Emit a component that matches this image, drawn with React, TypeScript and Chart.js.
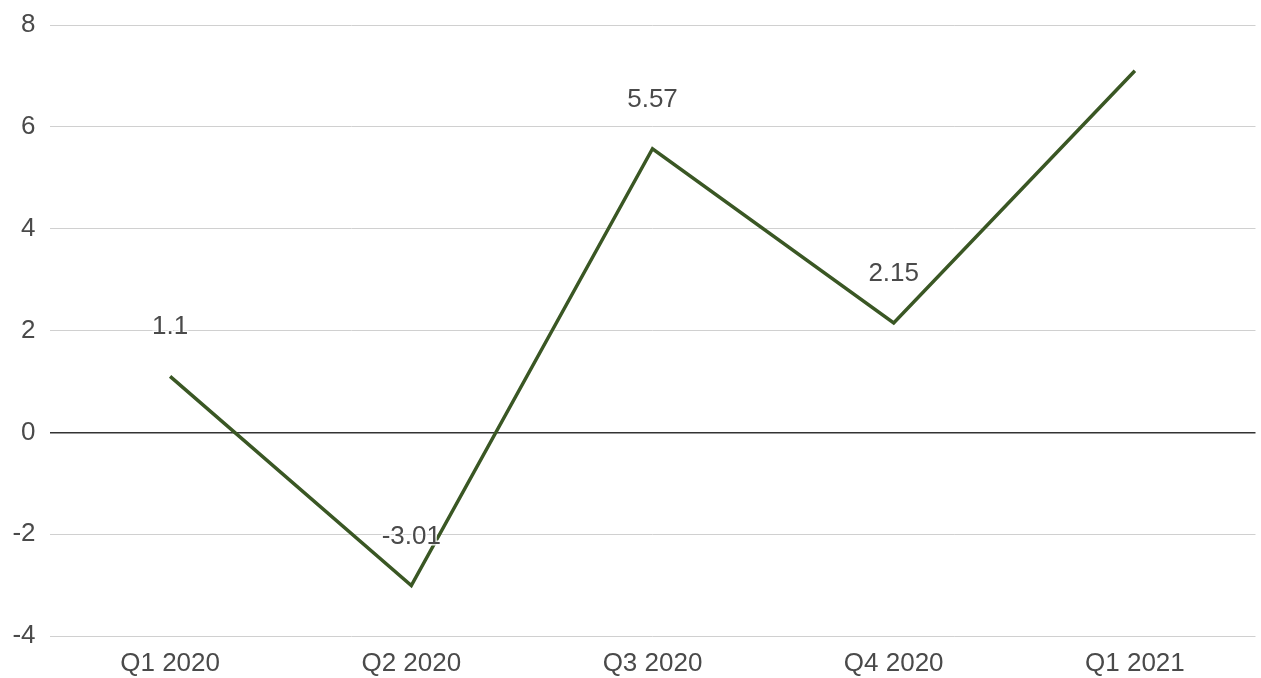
import React, { useEffect, useRef } from "react";
import { Chart, registerables } from "chart.js";

Chart.register(...registerables);

const categories = ["Q1 2020", "Q2 2020", "Q3 2020", "Q4 2020", "Q1 2021"];
const values = [1.1, -3.01, 5.57, 2.15, 7.1];
const showValueLabel = [true, true, true, true, false];
const yTicks = [-4, -2, 0, 2, 4, 6, 8];

const FONT = "'Liberation Sans', Arial, sans-serif";

const valueLabelPlugin = {
  id: "valueLabels",
  afterDatasetsDraw(chart: any) {
    const ctx = chart.ctx;
    const meta = chart.getDatasetMeta(0);
    ctx.save();
    ctx.font = `26px ${FONT}`;
    ctx.textAlign = "center";
    ctx.textBaseline = "middle";
    meta.data.forEach((pt: any, i: number) => {
      if (!showValueLabel[i]) return;
      const txt = String(values[i]);
      const x = pt.x;
      const y = pt.y - 49;
      ctx.lineWidth = 3;
      ctx.strokeStyle = "rgba(255,255,255,0.85)";
      ctx.strokeText(txt, x, y);
      ctx.fillStyle = "#4a4a4a";
      ctx.fillText(txt, x, y);
    });
    ctx.restore();
  },
};

export default function App() {
  const ref = useRef<HTMLCanvasElement | null>(null);
  useEffect(() => {
    if (!ref.current) return;
    const chart = new Chart(ref.current, {
      type: "line",
      data: {
        labels: categories,
        datasets: [
          {
            data: values,
            borderColor: "#3a5724",
            borderWidth: 3.5,
            pointRadius: 0,
            tension: 0,
            fill: false,
          },
        ],
      },
      options: {
        animation: false,
        responsive: false,
        maintainAspectRatio: false,
        layout: { padding: { top: 25, right: 5.5, left: 0, bottom: 0 } },
        plugins: { legend: { display: false }, tooltip: { enabled: false } },
        scales: {
          x: {
            offset: true,
            grid: { display: false, drawTicks: false },
            border: { display: false },
            ticks: { color: "#4a4a4a", font: { size: 26, family: FONT }, padding: 12, maxRotation: 0 },
            afterFit(scale: any) {
              scale.height = 42;
              scale.paddingLeft = 0;
              scale.paddingRight = 0;
            },
          },
          y: {
            min: -4,
            max: 8,
            afterBuildTicks(scale: any) {
              scale.ticks = yTicks.map((v) => ({ value: v }));
            },
            grid: {
              drawTicks: false,
              color: (c: any) => (c.tick && c.tick.value === 0 ? "#333" : "#d0d0d0"),
              lineWidth: (c: any) => (c.tick && c.tick.value === 0 ? 1.5 : 1),
            },
            border: { display: false },
            ticks: { color: "#4a4a4a", font: { size: 26, family: FONT }, padding: 14 },
            afterFit(scale: any) {
              scale.width = 49.5;
              scale.paddingTop = 0;
              scale.paddingBottom = 0;
            },
          },
        },
      },
      plugins: [valueLabelPlugin],
    });
    return () => chart.destroy();
  }, []);
  return (
    <div style={{ position: "fixed", left: 0, top: 0, width: 1261, height: 678, background: "#fff" }}>
      <canvas ref={ref} width={1261} height={678} style={{ width: 1261, height: 678 }} />
    </div>
  );
}
